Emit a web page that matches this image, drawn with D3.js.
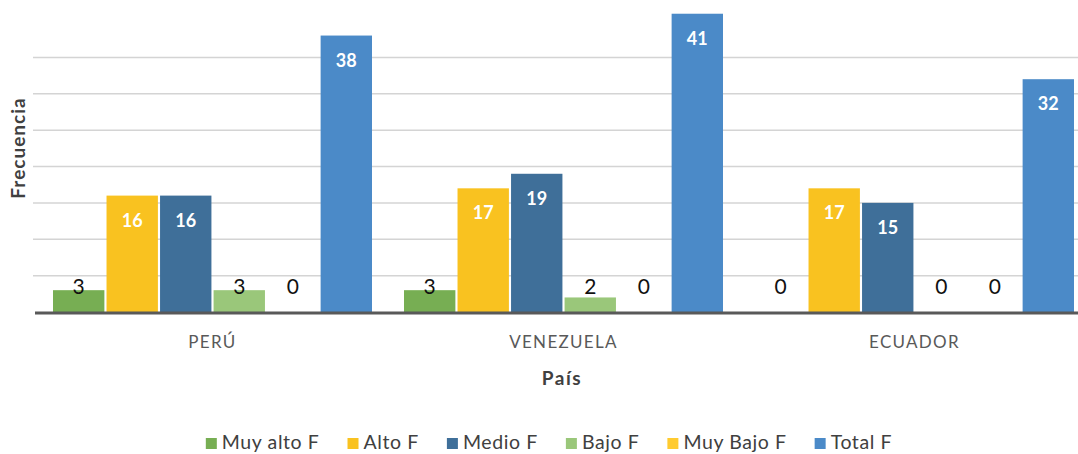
<!DOCTYPE html>
<html>
<head>
<meta charset="utf-8">
<script src="https://cdn.jsdelivr.net/npm/d3@7"></script>
<style>
  body { margin: 0; background: #fff; }
  svg text { font-family: Lato, "Open Sans", sans-serif; }
</style>
</head>
<body>
<div id="chart"></div>
<script>
var countries = ["PERÚ", "VENEZUELA", "ECUADOR"];
var seriesNames = ["Muy alto F", "Alto F", "Medio F", "Bajo F", "Muy Bajo F", "Total F"];
var seriesColors = ["#77ae53", "#f9c220", "#3f6f99", "#9ac77a", "#ffcb30", "#4b8ac8"];
// values per country, in series order
var peru = [3, 16, 16, 3, 0, 38];
var venezuela = [3, 17, 19, 2, 0, 41];
var ecuador = [0, 17, 15, 0, 0, 32];
var values = [peru, venezuela, ecuador];
var gridTicks = [5, 10, 15, 20, 25, 30, 35];

var width = 1078, height = 454;
var svg = d3.select('#chart').append('svg')
    .attr('width', width)
    .attr('height', height);

var x0 = d3.scaleBand().domain(countries).range([37, 1090]);
var x1 = d3.scaleBand().domain(seriesNames).range([16, 335]).paddingInner(0.04);
var y = d3.scaleLinear().domain([0, 40]).range([312, 21]);

// gridlines
svg.append('g').selectAll('line')
    .data(gridTicks)
    .enter().append('line')
    .attr('x1', 33).attr('x2', width)
    .attr('y1', function (d) { return y(d); })
    .attr('y2', function (d) { return y(d); })
    .attr('stroke', '#d4d4d4')
    .attr('stroke-width', 1.5);

var rows = [];
countries.forEach(function (c, i) {
  seriesNames.forEach(function (s, j) {
    rows.push({ country: c, series: s, value: values[i][j], color: seriesColors[j] });
  });
});

var groups = svg.append('g');
groups.selectAll('rect')
    .data(rows)
    .enter().append('rect')
    .attr('x', function (d) { return x0(d.country) + x1(d.series); })
    .attr('y', function (d) { return y(d.value); })
    .attr('width', x1.bandwidth())
    .attr('height', function (d) { return y(0) - y(d.value); })
    .style('fill', function (d) { return d.color; });

// value labels: big bars get white bold text inside, small ones black text near the base
groups.selectAll('text')
    .data(rows)
    .enter().append('text')
    .attr('x', function (d) { return x0(d.country) + x1(d.series) + x1.bandwidth() / 2; })
    .attr('y', function (d) { return d.value >= 10 ? y(d.value) + 31 : 294; })
    .attr('text-anchor', 'middle')
    .attr('font-size', function (d) { return d.value >= 10 ? 18 : 21; })
    .attr('font-weight', function (d) { return d.value >= 10 ? 'bold' : 'normal'; })
    .style('font-family', function (d) { return d.value >= 10 ? null : '"Liberation Sans Narrow", Lato, sans-serif'; })
    .style('fill', function (d) { return d.value >= 10 ? '#ffffff' : '#111111'; })
    .text(function (d) { return d.value; });

// baseline
svg.append('line')
    .attr('x1', 35).attr('x2', width)
    .attr('y1', y(0) + 1).attr('y2', y(0) + 1)
    .attr('stroke', '#595959')
    .attr('stroke-width', 3);

// category labels
svg.append('g').selectAll('text')
    .data(countries)
    .enter().append('text')
    .attr('x', function (d) { return x0(d) + x0.bandwidth() / 2; })
    .attr('y', 348)
    .attr('text-anchor', 'middle')
    .attr('font-size', 17)
    .attr('letter-spacing', 1.3)
    .style('fill', '#595959')
    .text(function (d) { return d; });

// axis titles
svg.append('text')
    .attr('x', 562).attr('y', 385)
    .attr('text-anchor', 'middle')
    .attr('font-size', 19).attr('font-weight', 'bold')
    .attr('letter-spacing', 1.5)
    .style('fill', '#404040')
    .text('País');

svg.append('text')
    .attr('transform', 'translate(25,148) rotate(-90)')
    .attr('text-anchor', 'middle')
    .attr('font-size', 19).attr('font-weight', 'bold')
    .attr('letter-spacing', 1)
    .style('fill', '#404040')
    .text('Frecuencia');

// legend
var legend = svg.append('g');
var items = legend.selectAll('g')
    .data(seriesNames)
    .enter().append('g');
items.append('rect')
    .attr('width', 11).attr('height', 11)
    .attr('y', 438)
    .style('fill', function (d, i) { return seriesColors[i]; });
items.append('text')
    .attr('x', 16).attr('y', 449)
    .attr('font-size', 19.5)
    .attr('letter-spacing', 0.6)
    .style('fill', '#404040')
    .text(function (d) { return d; });

var gap = 28, pos = 0, offsets = [];
items.each(function () {
  offsets.push(pos);
  pos += 16 + this.querySelector('text').getComputedTextLength() + gap;
});
var total = pos - gap;
var start = 549 - total / 2;
items.attr('transform', function (d, i) { return 'translate(' + (start + offsets[i]) + ',0)'; });
</script>
</body>
</html>
